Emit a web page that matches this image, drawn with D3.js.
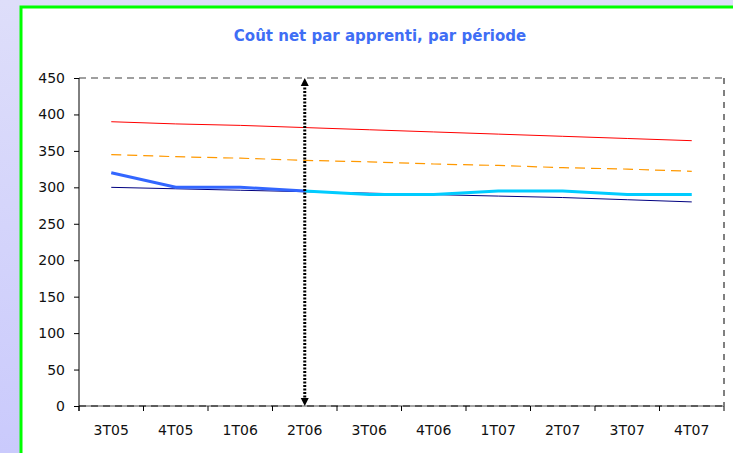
<!DOCTYPE html>
<html>
<head>
<meta charset="utf-8">
<script src="https://cdn.jsdelivr.net/npm/d3@7"></script>
<style>
  body { margin: 0; padding: 0; overflow: hidden; }
  svg { display: block; font-family: 'DejaVu Sans', Verdana, sans-serif; }
</style>
</head>
<body>
<div id="chart"></div>
<script>
const width = 733;
const height = 453;

// data
const periods = ['3T05', '4T05', '1T06', '2T06', '3T06', '4T06', '1T07', '2T07', '3T07', '4T07'];
const redValues = [390, 387, 385, 382, 379, 376, 373, 370, 367, 364];
const orangeValues = [345, 342, 340, 337, 335, 332, 330, 327, 325, 322];
const navyValues = [300, 298, 296, 294, 292, 290, 288, 286, 283, 280];
const blueValues = [320, 300, 300, 295, null, null, null, null, null, null];
const cyanValues = [null, null, null, 295, 290, 290, 295, 295, 290, 290];
const yTicks = [0, 50, 100, 150, 200, 250, 300, 350, 400, 450];
const markerPeriod = '2T06';

const svg = d3
  .select('#chart')
  .append('svg')
  .attr('width', width)
  .attr('height', height);

// background
const defs = svg.append('defs');
const grad = defs.append('linearGradient').attr('id', 'bg').attr('x1', 0).attr('y1', 0).attr('x2', 0).attr('y2', 1);
grad.append('stop').attr('offset', '0%').attr('stop-color', '#dedefa');
grad.append('stop').attr('offset', '100%').attr('stop-color', '#cacafc');

svg.append('rect').attr('width', width).attr('height', height).attr('fill', 'url(#bg)');
svg.append('rect')
  .attr('x', 21)
  .attr('y', 7)
  .attr('width', width + 10)
  .attr('height', height + 10)
  .attr('fill', '#fff')
  .attr('stroke', '#00ff00')
  .attr('stroke-width', 3);

svg.append('text')
  .attr('x', 380)
  .attr('y', 41)
  .attr('text-anchor', 'middle')
  .attr('font-size', 15)
  .attr('font-weight', 'bold')
  .attr('fill', '#3f6ef5')
  .text('Coût net par apprenti, par période');

const plotLeft = 79, plotRight = 724, plotTop = 78, plotBottom = 406;

const x = d3.scaleBand().domain(periods).range([plotLeft, plotRight]).padding(0);
const y = d3.scaleLinear().domain([0, 450]).range([plotBottom, plotTop]);
const cx = (p) => x(p) + x.bandwidth() / 2;

// plot frame: dashed top / right / bottom
svg.append('line').attr('x1', plotLeft).attr('x2', plotRight).attr('y1', plotTop).attr('y2', plotTop)
  .attr('stroke', '#808080').attr('stroke-width', 1.5).attr('stroke-dasharray', '7,5');
svg.append('line').attr('x1', plotRight).attr('x2', plotRight).attr('y1', plotTop).attr('y2', plotBottom)
  .attr('stroke', '#000').attr('stroke-width', 1).attr('stroke-dasharray', '6,6');
svg.append('line').attr('x1', plotLeft).attr('x2', plotRight).attr('y1', plotBottom).attr('y2', plotBottom)
  .attr('stroke', '#888').attr('stroke-width', 1.5);
svg.append('line').attr('x1', plotLeft).attr('x2', plotRight).attr('y1', plotBottom).attr('y2', plotBottom)
  .attr('stroke', '#444').attr('stroke-width', 1.5).attr('stroke-dasharray', '7,5');

// y axis
const yAxis = svg.append('g')
  .attr('transform', `translate(${plotLeft},0)`)
  .call(d3.axisLeft(y).tickValues(yTicks).tickSize(5).tickPadding(9).tickSizeOuter(0));
yAxis.select('.domain').attr('d', `M0,${plotTop}V${plotBottom + 5}`).attr('stroke', '#000');
yAxis.selectAll('text').attr('font-size', 14).attr('font-family', "'DejaVu Sans', sans-serif").attr('fill', '#111');

// x axis: labels at centres, ticks at band boundaries
const xAxis = svg.append('g')
  .attr('transform', `translate(0,${plotBottom})`)
  .call(d3.axisBottom(x).tickSize(0).tickPadding(19));
xAxis.select('.domain').remove();
xAxis.selectAll('text').attr('font-size', 14).attr('font-family', "'DejaVu Sans', sans-serif").attr('fill', '#111');

svg.append('g')
  .selectAll('line')
  .data(periods.map((p) => x(p)).concat([plotRight]))
  .enter()
  .append('line')
  .attr('x1', (d) => d)
  .attr('x2', (d) => d)
  .attr('y1', plotBottom)
  .attr('y2', plotBottom + 5)
  .attr('stroke', '#000');

// series
const line = d3
  .line()
  .defined((d) => d.v != null)
  .x((d) => cx(d.p))
  .y((d) => y(d.v));

const series = [
  { values: redValues, color: '#ff0000', w: 1, dash: null },
  { values: orangeValues, color: '#ff9900', w: 1.2, dash: '10,6' },
  { values: navyValues, color: '#000080', w: 1, dash: null },
  { values: blueValues, color: '#3366ff', w: 3, dash: null },
  { values: cyanValues, color: '#00ccff', w: 3, dash: null },
];

series.forEach((s) => {
  svg.append('path')
    .datum(periods.map((p, i) => ({ p: p, v: s.values[i] })))
    .attr('d', line)
    .attr('fill', 'none')
    .attr('stroke', s.color)
    .attr('stroke-width', s.w)
    .attr('stroke-dasharray', s.dash);
});

// dotted double arrow at the marker period
const mx = cx(markerPeriod);
svg.append('line')
  .attr('x1', mx).attr('x2', mx)
  .attr('y1', plotTop + 6).attr('y2', plotBottom - 6)
  .attr('stroke', '#000')
  .attr('stroke-width', 3)
  .attr('stroke-dasharray', '2,1.5');
svg.append('path')
  .attr('d', `M${mx},${plotTop}L${mx - 4},${plotTop + 8}L${mx + 4},${plotTop + 8}Z`)
  .attr('fill', '#000');
svg.append('path')
  .attr('d', `M${mx},${plotBottom}L${mx - 4},${plotBottom - 8}L${mx + 4},${plotBottom - 8}Z`)
  .attr('fill', '#000');
</script>
</body>
</html>
